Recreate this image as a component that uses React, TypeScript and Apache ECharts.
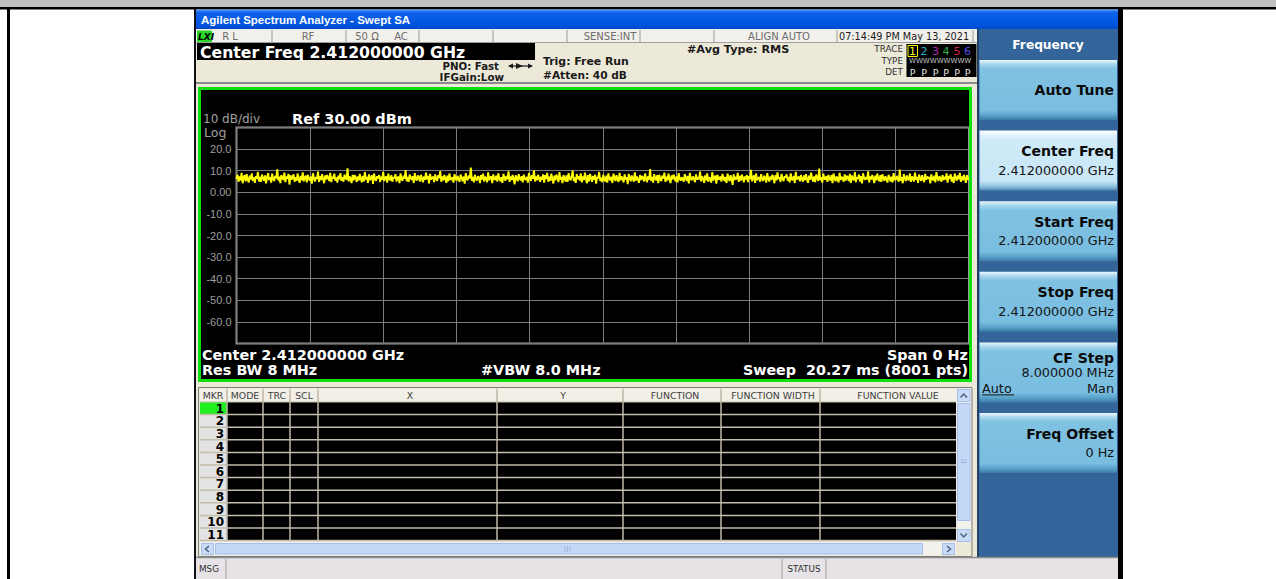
import React, { useEffect, useRef } from "react";
import * as echarts from "echarts";

// ---------------- data ----------------
const REF_LEVEL_DBM = 30;
const DB_PER_DIV = 10;
const Y_DIVISIONS = 10;
const X_DIVISIONS = 10;
const SWEEP_TIME_MS = 20.27;

// Trace 1 (zero span, RMS detector), dBm
const TRACE_1_DBM = [
  6.2, 8.1, 4.9, 7.3, 5.6, 9.0, 4.2, 6.8, 7.9, 5.1, 8.4, 6.0, 4.6, 7.7, 5.9, 8.8, 5.3, 6.9, 4.4, 7.5,
  6.3, 9.4, 5.0, 7.1, 4.8, 8.2, 6.5, 5.4, 7.8, 4.1, 6.7, 8.9, 5.7, 7.0, 4.5, 8.6, 6.1, 5.2, 7.6, 6.4,
  10.6, 5.5, 7.2, 4.3, 8.0, 6.6, 5.8, 9.1, 4.7, 7.4, 6.2, 8.5, 3.6, 7.9, 5.9, 6.8, 8.3, 4.9, 7.0, 5.3,
  8.7, 6.0, 4.4, 7.6, 5.6, 9.2, 5.1, 6.9, 7.7, 4.6, 8.1, 6.3, 5.5, 7.3, 4.0, 8.8, 6.7, 5.0, 7.1, 6.2,
  9.6, 4.8, 7.5, 5.7, 8.4, 6.1, 4.2, 7.8, 5.9, 8.0, 6.6, 5.2, 9.0, 4.7, 7.2, 6.4, 8.6, 5.4, 6.9, 4.5,
  7.7, 6.0, 8.9, 5.3, 7.0, 4.9, 8.2, 6.5, 5.8, 11.1, 5.0, 7.4, 6.2, 4.3, 8.1, 5.6, 7.9, 6.8, 4.8, 7.3,
  5.5, 8.5, 6.3, 4.6, 7.6, 5.1, 9.3, 6.0, 7.1, 4.4, 8.3, 5.7, 6.6, 7.8, 3.9, 8.7, 6.1, 5.3, 7.5, 6.4,
  8.0, 4.7, 7.2, 5.9, 9.5, 5.2, 6.8, 7.4, 4.5, 8.6, 6.2, 5.6, 7.9, 4.9, 7.0, 6.5, 8.4, 5.0, 6.7, 7.3,
  4.2, 8.8, 6.0, 5.4, 7.7, 6.3, 10.3, 5.1, 7.1, 4.8, 8.2, 6.6, 5.8, 7.5, 4.3, 8.9, 6.1, 5.5, 7.8, 6.9,
  5.0, 8.1, 6.4, 4.6, 7.3, 5.7, 9.1, 6.0, 7.6, 4.1, 8.5, 5.9, 6.7, 7.2, 4.7, 8.3, 6.2, 5.3, 7.9, 6.5,
  9.8, 4.9, 7.4, 5.6, 8.0, 6.3, 4.4, 7.7, 5.2, 8.7, 6.1, 5.8, 7.0, 4.5, 8.4, 6.6, 5.4, 7.6, 6.0, 4.8,
  8.2, 6.7, 5.1, 7.3, 4.0, 8.9, 6.2, 5.7, 7.8, 6.4, 11.4, 5.3, 7.1, 4.6, 8.1, 6.0, 5.5, 7.5, 6.8, 4.3,
  7.9, 5.9, 8.6, 5.0, 7.2, 6.5, 4.7, 9.2, 5.6, 6.9, 7.4, 4.2, 8.3, 6.1, 5.8, 7.7, 4.9, 8.8, 6.3, 5.2,
  7.0, 4.4, 8.5, 6.6, 5.4, 7.6, 6.0, 9.7, 4.8, 7.3, 5.7, 8.0, 6.2, 3.7, 7.8, 6.7, 5.1, 8.4, 6.4, 5.5,
  7.5, 4.6, 8.2, 6.1, 5.9, 7.1, 4.5, 8.9, 6.8, 5.3, 7.9, 6.3, 10.2, 5.0, 7.4, 5.6, 8.1, 6.5, 4.9, 7.2,
  5.8, 8.3, 4.5, 7.9, 6.1, 9.0, 4.9, 7.2, 5.3, 8.6, 6.4, 4.1, 7.7, 5.5, 8.2, 6.8, 4.7, 9.3, 5.9, 7.1,
  4.3, 8.0, 6.6, 5.0, 7.8, 4.8, 8.9, 6.2, 5.6, 7.4, 10.1, 5.2, 6.9, 4.4, 8.4, 6.0, 7.5, 5.4, 8.7, 4.6,
  7.3, 5.7, 9.1, 6.3, 4.2, 7.9, 5.1, 8.5, 6.7, 4.9, 7.6, 5.8, 8.1, 4.0, 7.0, 6.5, 9.4, 5.3, 6.8, 4.7,
  8.2, 6.1, 5.0, 7.7, 4.5, 8.8, 6.4, 5.5, 7.2, 4.3, 8.6, 6.9, 5.2, 7.9, 6.0, 4.8, 9.0, 5.6, 7.4, 6.2,
  4.6, 8.3, 5.9, 7.0, 3.8, 8.5, 6.6, 5.1, 7.8, 6.3, 4.9, 9.2, 5.4, 7.3, 6.1, 4.4, 8.0, 5.7, 7.6, 6.8,
  5.0, 8.7, 6.2, 4.7, 7.5, 5.8, 10.8, 5.3, 7.1, 4.5, 8.4, 6.5, 5.6, 7.9, 4.2, 8.1, 6.0, 5.2, 7.7, 6.4,
  9.1, 4.8, 7.2, 5.5, 8.6, 6.1, 4.3, 7.8, 5.9, 8.2, 6.7, 5.0, 7.4, 4.6, 8.9, 6.3, 5.4, 7.0, 6.0, 4.9,
  8.4, 6.6, 5.2, 7.6, 4.1, 9.0, 6.2, 5.7, 7.3, 6.5, 4.7, 8.3, 5.8, 7.1, 6.0, 9.6, 5.1, 7.5, 6.4, 4.4,
  7.8, 5.6, 8.8, 4.9, 7.0, 6.3, 4.5, 9.3, 5.5, 6.8, 7.7, 4.0, 8.1, 6.2, 5.9, 7.4, 5.0, 8.5, 6.6, 5.3,
  7.1, 4.3, 8.6, 6.5, 5.2, 7.9, 6.1, 3.4, 8.3, 5.7, 7.2, 6.0, 9.0, 4.8, 7.6, 5.4, 8.2, 6.7, 4.6, 7.3,
  5.9, 8.0, 4.7, 7.5, 6.2, 10.4, 5.1, 6.9, 7.8, 4.4, 8.7, 5.6, 6.4, 7.1, 4.9, 8.4, 6.0, 5.3, 7.7, 6.6,
  4.5, 8.9, 6.3, 5.0, 7.4, 5.8, 8.1, 6.6, 4.2, 7.9, 5.5, 9.2, 6.1, 7.0, 4.8, 8.5, 6.4, 5.2, 7.3, 6.9,
  8.3, 5.4, 7.1, 4.6, 8.8, 6.0, 5.7, 7.6, 4.3, 9.5, 5.9, 6.7, 7.2, 5.1, 8.0, 6.2, 4.9, 7.8, 5.6, 8.4,
  6.1, 4.4, 7.7, 5.8, 9.1, 6.5, 5.0, 7.3, 4.7, 8.2, 6.8, 5.3, 11.0, 5.6, 7.0, 4.5, 8.6, 6.3, 5.9, 7.5,
  4.8, 8.1, 6.0, 5.5, 7.9, 4.2, 8.7, 6.6, 5.1, 7.4, 6.2, 4.6, 9.0, 5.7, 7.2, 6.4, 4.9, 8.3, 5.4, 7.6,
  6.9, 5.2, 8.5, 4.4, 7.8, 6.1, 5.6, 9.4, 4.7, 7.0, 6.3, 8.2, 5.0, 7.5, 4.1, 8.8, 6.5, 5.8, 7.1, 6.0,
  9.7, 4.6, 7.3, 5.9, 8.0, 6.4, 4.3, 7.7, 5.5, 8.6, 6.2, 5.1, 7.9, 4.8, 8.3, 6.7, 5.3, 7.4, 6.1, 4.5,
  8.1, 6.8, 5.0, 7.2, 4.6, 8.9, 6.0, 5.7, 7.6, 6.3, 4.9, 10.5, 5.4, 7.0, 4.2, 8.4, 6.6, 5.2, 7.8, 6.1,
  5.6, 8.7, 4.8, 7.4, 6.2, 5.1, 9.1, 5.9, 7.1, 4.4, 8.2, 6.5, 5.3, 7.9, 6.0, 4.7, 8.5, 5.8, 7.3, 6.4,
  7.0, 4.1, 8.3, 6.1, 5.5, 7.7, 4.6, 9.3, 6.7, 5.2, 7.5, 6.3, 4.9, 8.0, 5.7, 7.2, 6.0, 8.8, 4.5, 7.6,
  6.2, 8.4, 5.0, 7.1, 4.3, 8.6, 6.5, 5.4, 7.8, 6.0, 9.0, 4.8, 7.3, 5.6, 8.1, 6.4, 4.4, 7.9, 5.9, 7.0,
];

const WINDOW_TITLE = "Agilent Spectrum Analyzer - Swept SA";
const STATUS_LABELS = ["R L", "RF", "50 Ω", "AC", "SENSE:INT", "ALIGN AUTO"];
const TIMESTAMP = "07:14:49 PM May 13, 2021";
const ACTIVE_FUNCTION = "Center Freq 2.412000000 GHz";
const SETTINGS_LEFT = ["PNO: Fast", "IFGain:Low"];
const SETTINGS_MID = ["Trig: Free Run", "#Atten: 40 dB"];
const AVG_TYPE = "#Avg Type: RMS";
const TRACE_ROW_LABELS = ["TRACE", "TYPE", "DET"];
const TRACE_NUMBERS = ["1", "2", "3", "4", "5", "6"];
const TRACE_DETECTORS = ["P", "P", "P", "P", "P", "P"];
const SCALE_LABEL = "10 dB/div";
const SCALE_TYPE = "Log";
const REF_LABEL = "Ref 30.00 dBm";
const FOOTER_LEFT = ["Center 2.412000000 GHz", "Res BW 8 MHz"];
const FOOTER_MID = "#VBW 8.0 MHz";
const FOOTER_RIGHT = ["Span 0 Hz", "Sweep  20.27 ms (8001 pts)"];
const TABLE_HEADERS = ["MKR", "MODE", "TRC", "SCL", "X", "Y", "FUNCTION", "FUNCTION WIDTH", "FUNCTION VALUE"];
const MARKER_ROWS = ["1", "2", "3", "4", "5", "6", "7", "8", "9", "10", "11"];
const MENU_TITLE = "Frequency";
const SOFTKEY_TITLES = ["Auto Tune", "Center Freq", "Start Freq", "Stop Freq", "CF Step", "Freq Offset"];
const SOFTKEY_VALUES = ["", "2.412000000 GHz", "2.412000000 GHz", "2.412000000 GHz", "8.000000 MHz", "0 Hz"];
const CF_STEP_MODES = ["Auto", "Man"];
const STATUS_BAR = ["MSG", "STATUS"];

// ---------------- layout / style ----------------
const DJ = '"DejaVu Sans", Verdana, sans-serif';
const LS = '"Liberation Sans", Arial, sans-serif';
const BEIGE = "#ece9d8";
const TRACE_COLORS = ["#ffff00", "#20b4d0", "#b424b4", "#30b050", "#d42050", "#5050e4"];
const STATUS_X = [230, 308, 367, 401, 610, 779];
const STATUS_DIVIDERS = [272, 346, 419, 493, 567, 640, 714, 837, 973];
const COL_EDGES = [200, 227, 263, 290, 318, 497, 623, 721, 820, 956];
const HEADER_X = [213, 245, 277, 304, 410, 563, 675, 773, 898];
const TRACE_X = [912.5, 924, 935.5, 946, 957, 967.5];

const G = { left: 236.5, top: 127.5, width: 732.5, height: 216 };

function rect(x: number, y: number, w: number, h: number, fill: any, extra: any = {}, z = 1) {
  return { type: "rect", z, silent: true, shape: { x, y, width: w, height: h }, style: { fill, ...extra } };
}
function ln(x1: number, y1: number, x2: number, y2: number, stroke: string, lw = 1, z = 2) {
  return { type: "line", z, silent: true, shape: { x1, y1, x2, y2 }, style: { stroke, lineWidth: lw } };
}
function poly(points: number[][], fill: string, z = 3) {
  return { type: "polygon", z, silent: true, shape: { points }, style: { fill } };
}
function pl(points: number[][], stroke: string, lw = 1.2, z = 3) {
  return { type: "polyline", z, silent: true, shape: { points }, style: { stroke, lineWidth: lw, fill: "none" } };
}
function txt(x: number, y: number, s: string, font: string, fill: string, align = "left", z = 20) {
  return {
    type: "text",
    z,
    silent: true,
    x,
    y,
    style: { text: s, font, fill, align, verticalAlign: "middle", textAlign: align, textVerticalAlign: "middle" },
  };
}
function grad(stops: [number, string][]) {
  return new echarts.graphic.LinearGradient(0, 0, 0, 1, stops.map(([offset, color]) => ({ offset, color })));
}

function buildGraphics() {
  const g: any[] = [];
  // page frame
  g.push(rect(0, 0, 1276, 7, "#c0c0c0", {}, -2));
  g.push(rect(0, 7, 1276, 2.5, "#000000", {}, -2));
  g.push(rect(7, 7, 3, 572, "#000000", {}, -2));
  g.push(rect(1118, 7, 5, 572, "#000000", {}, -2));
  g.push(rect(194, 9, 2, 570, "#101018", {}, -2));
  // window background
  g.push(rect(196, 29, 922, 550, BEIGE, {}, -2));
  // title bar
  g.push(rect(196, 9.5, 922, 19.5, grad([[0, "#4a94f8"], [0.18, "#0c60ea"], [0.8, "#0054dc"], [1, "#0048c8"]]), {}, 1));
  g.push(txt(201, 20, WINDOW_TITLE, `bold 11.5px ${LS}`, "#ffffff"));
  // status row
  g.push(rect(196, 29, 781, 14, "#f2f0eb"));
  g.push(ln(196, 42.5, 977, 42.5, "#a0a0a0", 1));
  STATUS_DIVIDERS.forEach((x) => g.push(ln(x, 30, x, 42, "#9a9a9a", 1)));
  g.push(rect(197, 30.5, 15, 11.5, "#28d828"));
  g.push(txt(198, 36.5, "LXI", `italic bold 9px ${DJ}`, "#000000"));
  STATUS_LABELS.forEach((s, i) => g.push(txt(STATUS_X[i], 36, s, `10px ${DJ}`, "#6c6c6c", "center")));
  g.push(txt(839, 36, TIMESTAMP, `9.7px ${DJ}`, "#1a1a1a"));
  // active function bar
  g.push(rect(197, 43, 338, 17, "#000000"));
  g.push(txt(200, 52, ACTIVE_FUNCTION, `bold 15.7px ${DJ}`, "#ffffff"));
  // settings
  g.push(txt(499, 66, SETTINGS_LEFT[0], `bold 10.2px ${DJ}`, "#1a1a1a", "right"));
  g.push(txt(504, 77, SETTINGS_LEFT[1], `bold 10.3px ${DJ}`, "#1a1a1a", "right"));
  g.push(ln(509, 66, 532, 66, "#1a1a1a", 1.2));
  g.push(poly([[508, 66], [513, 63.5], [513, 68.5]], "#1a1a1a"));
  g.push(poly([[516, 63], [523, 66], [516, 69]], "#1a1a1a"));
  g.push(poly([[533, 66], [528, 63.5], [528, 68.5]], "#1a1a1a"));
  g.push(txt(543, 61, SETTINGS_MID[0], `bold 10.9px ${DJ}`, "#1a1a1a"));
  g.push(txt(543, 75, SETTINGS_MID[1], `bold 10.6px ${DJ}`, "#1a1a1a"));
  g.push(txt(687, 49, AVG_TYPE, `bold 11.2px ${DJ}`, "#1a1a1a"));
  // trace box
  [49, 61, 72].forEach((y, i) => g.push(txt(903, y, TRACE_ROW_LABELS[i], `8.8px ${DJ}`, "#303030", "right")));
  g.push(rect(906.5, 44, 70, 33, "#000000"));
  g.push(rect(908, 45.5, 9.5, 11, "none", { stroke: "#ffff00", lineWidth: 1 }, 3));
  TRACE_NUMBERS.forEach((s, i) => g.push(txt(TRACE_X[i], 51, s, `11px ${DJ}`, TRACE_COLORS[i], "center")));
  g.push(txt(909, 61, "WWWWWWWWW", `7px ${DJ}`, "#c4c4c4"));
  TRACE_DETECTORS.forEach((s, i) => g.push(txt(TRACE_X[i], 72, s, `9.5px ${DJ}`, "#e6e6e6", "center")));
  g.push(ln(196, 83, 977, 83, "#8a8a8a", 2));
  // graph frame
  g.push(rect(199.5, 88.5, 771, 292, "#000000", {}, -1));
  g.push(rect(199.5, 88.5, 771, 292, "none", { stroke: "#10e010", lineWidth: 3 }, 6));
  g.push(txt(203, 118.5, SCALE_LABEL, `12px ${DJ}`, "#a0a0a0"));
  g.push(txt(204, 132, SCALE_TYPE, `12.5px ${DJ}`, "#a0a0a0"));
  g.push(txt(292, 119, REF_LABEL, `bold 14.5px ${DJ}`, "#ffffff"));
  g.push(txt(202, 355, FOOTER_LEFT[0], `bold 14.4px ${DJ}`, "#ffffff"));
  g.push(txt(202, 370, FOOTER_LEFT[1], `bold 14.4px ${DJ}`, "#ffffff"));
  g.push(txt(481, 370, FOOTER_MID, `bold 14.4px ${DJ}`, "#ffffff"));
  g.push(txt(968, 355, FOOTER_RIGHT[0], `bold 14.4px ${DJ}`, "#ffffff", "right"));
  g.push(txt(968, 370, FOOTER_RIGHT[1], `bold 14.3px ${DJ}`, "#ffffff", "right"));
  // marker table
  g.push(rect(198.5, 387.5, 773.5, 169, BEIGE, { stroke: "#7a7a7a", lineWidth: 1 }));
  g.push(rect(200, 388.5, 756, 13.5, "#f2efe7"));
  const rowH = 12.6;
  const rowTop = 402;
  g.push(rect(227, rowTop, 729, rowH * MARKER_ROWS.length, "#000000"));
  MARKER_ROWS.forEach((s, i) => {
    const y = rowTop + i * rowH;
    g.push(rect(200, y, 27, rowH, i === 0 ? "#22ee22" : "#e4e3e3"));
    g.push(txt(224, y + rowH / 2 + 0.5, s, `bold 12px ${DJ}`, "#000000", "right"));
  });
  for (let i = 1; i <= MARKER_ROWS.length; i++) {
    const y = rowTop + i * rowH;
    g.push(ln(200, y, 956, y, "#c4bcac", 1.5));
  }
  g.push(ln(200, rowTop, 956, rowTop, "#c4bcac", 1));
  COL_EDGES.slice(1, -1).forEach((x) => g.push(ln(x, 388.5, x, rowTop + rowH * MARKER_ROWS.length, "#c0b8a8", 1.5)));
  TABLE_HEADERS.forEach((s, i) => g.push(txt(HEADER_X[i], 395.5, s, `9.4px ${DJ}`, "#404040", "center")));
  // vertical scrollbar
  g.push(rect(956.5, 388.5, 14.5, 153.5, "#f3f1ec"));
  g.push(rect(957.5, 389.5, 12.5, 12, "#c9dbf7", { stroke: "#a6bfea", lineWidth: 1 }));
  g.push(rect(957.5, 403.5, 12.5, 117, "#c4d8f8", { stroke: "#a6bfea", lineWidth: 1 }));
  g.push(rect(957.5, 529.5, 12.5, 12, "#c9dbf7", { stroke: "#a6bfea", lineWidth: 1 }));
  g.push(pl([[960.5, 397.5], [963.7, 394], [967, 397.5]], "#4d6185", 1.5));
  g.push(pl([[960.5, 533.5], [963.7, 537], [967, 533.5]], "#4d6185", 1.5));
  g.push(ln(960.5, 460, 967, 460, "#9fb6e0", 1));
  g.push(ln(960.5, 462.5, 967, 462.5, "#9fb6e0", 1));
  // horizontal scrollbar
  g.push(rect(200, 542, 756, 13, "#f3f1ec"));
  g.push(rect(201.5, 543.5, 12, 11, "#c9dbf7", { stroke: "#a6bfea", lineWidth: 1 }));
  g.push(rect(215.5, 543.5, 707, 10.5, "#c4d8f8", { stroke: "#a6bfea", lineWidth: 1 }));
  g.push(rect(942.5, 543.5, 12, 11, "#c9dbf7", { stroke: "#a6bfea", lineWidth: 1 }));
  g.push(pl([[209, 546], [205.5, 549], [209, 552]], "#4d6185", 1.5));
  g.push(pl([[947, 546], [950.5, 549], [947, 552]], "#4d6185", 1.5));
  [565, 567.5, 570].forEach((x) => g.push(ln(x, 546, x, 552, "#9fb6e0", 1)));
  // right menu panel
  g.push(rect(977, 29, 141, 528.5, "#33659b"));
  g.push(ln(978, 29, 978, 557, "#1c3656", 1.5));
  g.push(txt(1048, 44.5, MENU_TITLE, `bold 12.2px ${DJ}`, "#ffffff", "center"));
  SOFTKEY_TITLES.forEach((title, i) => {
    const top = 60 + i * 70.6;
    const selected = i === 1;
    const fill = selected
      ? grad([[0, "#ffffff"], [0.07, "#e2f3fc"], [0.15, "#cfeaf8"], [0.84, "#c8e6f6"], [0.93, "#8ec2de"], [1, "#4f86ad"]])
      : grad([[0, "#eef8fd"], [0.07, "#a8d7ee"], [0.15, "#80c2e2"], [0.84, "#79bde0"], [0.93, "#56a0c8"], [1, "#3c7aa4"]]);
    g.push(rect(979.5, top, 137.5, 60, fill));
    const v = SOFTKEY_VALUES[i];
    if (!v) {
      g.push(txt(1114, top + 30, title, `bold 14px ${DJ}`, "#0a0a0a", "right"));
    } else if (title === "CF Step") {
      g.push(txt(1114, top + 15.5, title, `bold 14px ${DJ}`, "#0a0a0a", "right"));
      g.push(txt(1114, top + 30, v, `12.8px ${DJ}`, "#141414", "right"));
      g.push(txt(982, top + 46, CF_STEP_MODES[0], `12.8px ${DJ}`, "#141414"));
      g.push(ln(982, top + 52.5, 1014, top + 52.5, "#141414", 1));
      g.push(txt(1114, top + 46, CF_STEP_MODES[1], `12.8px ${DJ}`, "#141414", "right"));
    } else {
      g.push(txt(1114, top + 20.5, title, `bold 14px ${DJ}`, "#0a0a0a", "right"));
      g.push(txt(1114, top + 39.5, v, `12.8px ${DJ}`, "#141414", "right"));
    }
  });
  // bottom status bar
  g.push(rect(196, 557, 922, 22, "#e6e2e5"));
  g.push(ln(196, 557.5, 1118, 557.5, "#8c8c8c", 1.5));
  [226, 782, 826].forEach((x) => g.push(ln(x, 559, x, 579, "#a4a4a4", 1)));
  g.push(txt(199, 569, STATUS_BAR[0], `8.8px ${DJ}`, "#303030"));
  g.push(txt(804, 569, STATUS_BAR[1], `8.8px ${DJ}`, "#303030", "center"));
  return g;
}

export default function App() {
  const ref = useRef<HTMLDivElement>(null);
  useEffect(() => {
    if (!ref.current) return;
    const chart = echarts.init(ref.current, undefined, { renderer: "svg" });
    const n = TRACE_1_DBM.length;
    const bottom = REF_LEVEL_DBM - DB_PER_DIV * Y_DIVISIONS;
    chart.setOption({
      animation: false,
      backgroundColor: "#ffffff",
      grid: {
        ...G,
        show: true,
        backgroundColor: "#000000",
        borderColor: "#9c9c9c",
        borderWidth: 2,
      },
      xAxis: {
        type: "value",
        min: 0,
        max: SWEEP_TIME_MS,
        interval: SWEEP_TIME_MS / X_DIVISIONS,
        axisLabel: { show: false },
        axisTick: { show: false },
        axisLine: { show: false },
        splitLine: { show: true, lineStyle: { color: "#7c7c7c", width: 1 } },
      },
      yAxis: {
        type: "value",
        min: bottom,
        max: REF_LEVEL_DBM,
        interval: DB_PER_DIV,
        axisLine: { show: false },
        axisTick: { show: false },
        splitLine: { show: true, lineStyle: { color: "#7c7c7c", width: 1 } },
        axisLabel: {
          color: "#9e9e9e",
          fontSize: 11,
          fontFamily: LS,
          margin: 5,
          showMinLabel: false,
          showMaxLabel: false,
          formatter: (v: number) => (v === 0 ? "0.00" : v.toFixed(1)),
        },
      },
      series: [
        {
          type: "line",
          silent: true,
          symbol: "none",
          showSymbol: false,
          data: TRACE_1_DBM.map((v, i) => [(i * SWEEP_TIME_MS) / (n - 1), v]),
          lineStyle: { color: "#ffff00", width: 1.9 },
          z: 4,
        },
      ],
      graphic: { elements: buildGraphics() },
    });
    return () => chart.dispose();
  }, []);
  return (
    <div
      ref={ref}
      style={{ position: "fixed", left: 0, top: 0, width: 1276, height: 579 }}
    />
  );
}
